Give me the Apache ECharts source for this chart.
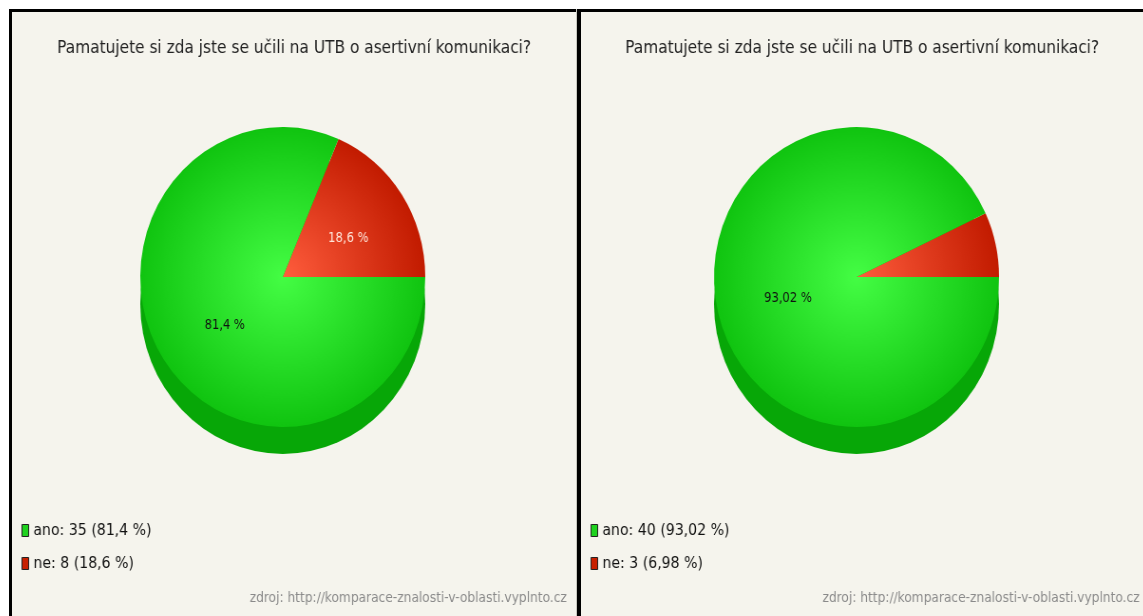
<!DOCTYPE html>
<html>
<head>
<meta charset="utf-8">
<script src="https://cdn.jsdelivr.net/npm/echarts@6/dist/echarts.min.js"></script>
<style>
body { margin: 0; background: #fff; }
#frame { position: absolute; left: 9px; top: 9px; width: 1134px; height: 607px; box-sizing: border-box;
  border-top: 3px solid #000; border-left: 3px solid #000; background: #f5f4ed; }
#divider { position: absolute; left: 576px; top: 9px; width: 4px; height: 607px; background: #000; border-left: 1px solid #c8c8c0; }
.chart { position: absolute; top: 12px; height: 604px; transform: scaleX(0.95); transform-origin: 0 0; }
#left { left: 12px; width: 594px; }
#right { left: 581px; width: 592px; }
</style>
</head>
<body>
<div id="frame"></div>
<div id="divider"></div>
<div id="left" class="chart"></div>
<div id="right" class="chart"></div>
<script>
const categories = ['ano', 'ne'];
const leftValues = [35, 8];
const rightValues = [40, 3];
const questionTitle = 'Pamatujete si zda jste se učili na UTB o asertivní komunikaci?';
const sourceText = 'zdroj: http://komparace-znalosti-v-oblasti.vyplnto.cz';

const FONT = '"Liberation Sans Narrow", "DejaVu Sans Condensed", sans-serif';
const fmtPct = (v, total) => String(+(v / total * 100).toFixed(2)).replace('.', ',');

const createPie = (dom, values, center, sourceRight) => {
    const chart = echarts.init(dom);
    const total = values.reduce((a, b) => a + b, 0);
    const [cx, cy] = center;
    const R = 150, DEPTH = 27;
    const grad = (c0, c1) => ({
        type: 'radial', x: cx, y: cy, r: R, global: true,
        colorStops: [{ offset: 0, color: c0 }, { offset: 1, color: c1 }],
    });
    const colors = { ano: grad('#44fd44', '#10c410'), ne: grad('#ff5d3d', '#c21b00') };
    const textColors = { ano: '#111', ne: '#ffe6da' };
    const legendColors = { ano: '#1fd21f', ne: '#c82000' };

    // 'ne' goes first so it starts at 3 o'clock and runs counter-clockwise
    const pieData = categories.map((name, i) => ({
        name,
        value: values[i],
        itemStyle: { color: colors[name] },
        label: { color: textColors[name] },
    })).reverse();

    chart.setOption({
        animation: false,
        title: [
            {
                text: questionTitle, left: 'center', top: 27, padding: 0,
                textStyle: { fontFamily: FONT, fontSize: 18, fontWeight: 'normal', color: '#222' },
            },
            {
                text: sourceText, right: sourceRight, top: 579, padding: 0,
                textStyle: { fontFamily: FONT, fontSize: 14.3, fontWeight: 'normal', color: '#8a8a8a' },
            },
        ],
        legend: {
            orient: 'vertical',
            left: 10,
            top: 510,
            padding: 0,
            itemWidth: 7,
            itemHeight: 12,
            itemGap: 16,
            selectedMode: false,
            data: categories.map((name) => ({
                name,
                icon: 'rect',
                itemStyle: { color: legendColors[name], borderColor: '#222', borderWidth: 1 },
            })),
            formatter: (name) => {
                const v = values[categories.indexOf(name)];
                return name + ': ' + v + ' (' + fmtPct(v, total) + ' %)';
            },
            textStyle: { fontFamily: FONT, fontSize: 16.5, color: '#111' },
        },
        series: [
            {
                // side wall of the 3D pie
                type: 'pie',
                silent: true,
                radius: R,
                center: [cx, cy + DEPTH],
                data: [{ value: 1, itemStyle: { color: '#07a707' } }],
                label: { show: false },
                labelLine: { show: false },
                itemStyle: { borderWidth: 0 },
                z: 1,
            },
            {
                type: 'pie',
                radius: R,
                center: [cx, cy],
                clockwise: false,
                startAngle: 0,
                minShowLabelAngle: 30,
                data: pieData,
                itemStyle: { borderWidth: 0 },
                label: {
                    position: 'inside',
                    formatter: (p) => fmtPct(p.value, total) + ' %',
                    fontFamily: FONT,
                    fontSize: 13.5,
                },
                labelLayout: { dx: 4, dy: 5 },
                labelLine: { show: false },
                emphasis: { scale: false },
                z: 2,
            },
        ],
    });
    return chart;
};

createPie(document.getElementById('left'), leftValues, [285, 265], 10);
createPie(document.getElementById('right'), rightValues, [290, 265], 4);
</script>
</body>
</html>
